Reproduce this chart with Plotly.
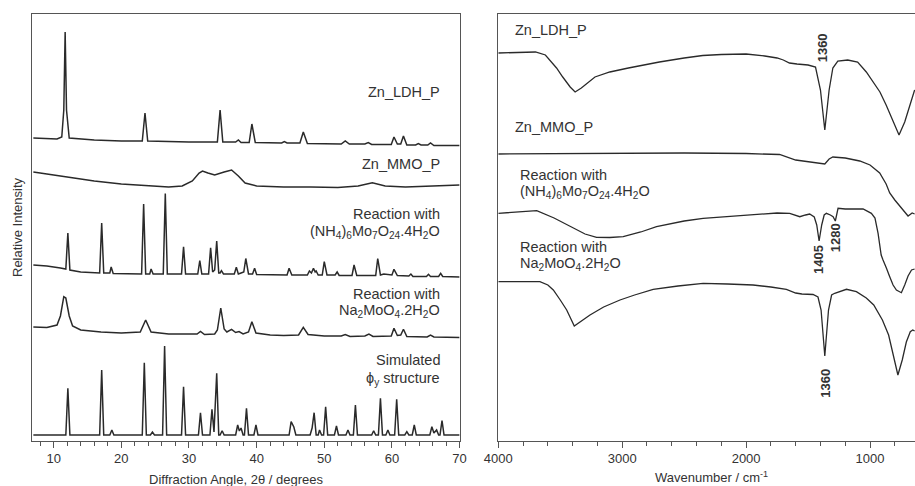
import plotly.graph_objects as go

# ---------------- XRD (left panel), 2theta in degrees, intensity in arbitrary offset units
ldh_x = [7.0, 10.5, 11.2, 11.5, 11.7, 11.9, 12.3, 16, 20, 23.1, 23.5, 23.9, 30, 34.2, 34.6, 35.0,
         36.9, 37.3, 37.7, 38.9, 39.3, 39.8, 43.7, 44.1, 44.5, 46.4, 46.9, 47.5, 52.5, 53.1, 53.7,
         56.0, 56.5, 57.0, 59.9, 60.3, 60.8, 61.3, 61.7, 62.2, 63.5, 63.9, 64.3, 65.3, 65.7, 66.2, 70]
ldh_y = [302, 301, 303, 330, 408, 330, 302, 300, 299, 299, 327, 299, 298, 298, 330, 298,
         298, 300, 297.5, 297.5, 316, 297.5, 297, 298.5, 297, 297, 308, 296.5, 296, 299, 296,
         296, 297.5, 295.5, 295.5, 303, 296, 296, 304, 295, 295, 296.5, 295, 295, 297, 294.5, 294.5]

mmo_x = [7.0, 9, 12, 16, 20, 24, 27, 29, 30.5, 31.5, 32.0, 32.8, 33.8, 35.2, 36.3, 37.3, 38.3,
         40, 44, 48, 52, 55, 57.1, 59, 62, 66, 70]
mmo_y = [268, 266, 263, 259, 256, 254, 253, 254, 259, 267, 269, 267, 265, 268, 270, 264, 257,
         254, 253, 253, 252.5, 254, 257.3, 254, 253, 254, 255]

nh4_x = [7.0, 9, 11, 11.8, 12.1, 12.4, 14, 16.8, 17.1, 17.4, 18.3, 18.5, 18.8, 23.0, 23.3, 23.6,
         24.2, 24.4, 24.7, 26.2, 26.5, 26.8, 28.9, 29.2, 29.5, 31.3, 31.6, 31.9, 32.9, 33.2, 33.5,
         33.8, 34.1, 34.4, 34.6, 34.8, 35.1, 36.7, 37.0, 37.3, 37.7, 38.1, 38.4, 38.8, 39.4, 39.7,
         40.0, 44.5, 44.8, 45.2, 47.5, 47.8, 48.1, 48.4, 48.65, 48.8, 49.1, 49.7, 50.0, 50.4, 51.6,
         51.9, 52.2, 54.1, 54.4, 54.8, 57.6, 57.9, 58.3, 58.8, 60.0, 60.3, 60.8, 62.5, 62.8, 63.1,
         65.1, 65.4, 65.7, 66.9, 67.2, 67.5, 70]
nh4_y = [175, 174, 172, 171, 207, 170, 168, 167, 217, 167, 167, 173, 166.5, 166, 236, 166,
         166, 171, 166, 166, 246.5, 166, 166, 193.3, 166, 166, 179.3, 166, 166, 192.3, 168,
         170, 199, 167, 167, 169.3, 166, 166, 172.7, 166, 167, 168, 181.5, 166, 166, 171.7,
         165.5, 165, 171.7, 165, 165, 169, 167, 171.7, 168, 169, 165, 165, 178.3, 165, 165,
         168, 164.5, 164.5, 175, 164.5, 164.5, 181.5, 165, 166, 165, 170.7, 164.5, 164, 166, 163.5,
         163.5, 165.7, 163.5, 163.5, 166.7, 163.5, 163]

na_x = [7.0, 9, 10.5, 11.0, 11.5, 11.8, 12.3, 12.8, 14, 17, 20, 22.8, 23.6, 24.4, 27, 31.2, 31.7,
        32.3, 33.8, 34.2, 34.7, 35.2, 35.6, 36.3, 36.9, 37.4, 38.0, 38.8, 39.3, 39.9, 42, 44,
        46.2, 46.9, 47.6, 50, 52.5, 53.1, 53.8, 56.0, 56.6, 57.2, 59.9, 60.3, 60.8, 61.3, 61.7,
        62.2, 65.2, 65.7, 66.2, 68, 70]
na_y = [113, 112.5, 115, 124, 143.3, 142, 124, 114, 110, 108, 107, 108, 120, 108, 106, 106, 108.5,
        105.5, 106, 110, 132, 111, 108, 110.7, 107.5, 108.5, 106, 108, 118.3, 107, 105, 104.5,
        105, 112.7, 105.5, 104, 104, 105.5, 103.5, 104, 106, 103.5, 104, 111.7, 104.5, 105, 110.7,
        103.5, 103, 105, 103, 102.5, 102.5]

sim_x = [7.0, 11.8, 12.1, 12.4, 16.8, 17.1, 17.4, 18.3, 18.6, 18.9, 23.1, 23.4, 23.7, 24.3, 24.6,
         24.9, 26.1, 26.4, 26.7, 28.9, 29.2, 29.5, 31.4, 31.7, 32.0, 33.1, 33.4, 33.7, 34.1, 34.4,
         34.6, 34.9, 35.2, 36.9, 37.2, 37.45, 37.7, 38.0, 38.2, 38.5, 38.8, 39.6, 39.9, 40.2, 44.8,
         45.1, 45.5, 45.8, 47.9, 48.2, 48.5, 48.8, 49.1, 49.3, 49.6, 49.9, 50.2, 50.5, 51.5, 51.8,
         52.1, 53.2, 53.5, 53.8, 54.3, 54.6, 54.9, 57.0, 57.3, 57.6, 58.0, 58.3, 58.6, 59.1, 59.4,
         59.7, 60.4, 60.7, 61.0, 61.9, 62.2, 62.5, 63.0, 63.3, 63.6, 65.6, 65.9, 66.2, 66.6, 66.9,
         67.1, 67.4, 67.7, 70]
sim_y = [5, 5, 51.7, 5, 5, 70, 5, 5, 10, 5, 5, 77.3, 5, 5, 8,
         5, 5, 94, 5, 5, 53.3, 5, 5, 27.3, 5, 5, 30.7, 8, 66.7, 5,
         5, 9.3, 5, 5, 15, 9, 12, 5, 5, 31.7, 5, 5, 15, 5, 5,
         18.3, 13, 5, 5, 12, 27.3, 5, 5, 10, 5, 5, 33.3, 5, 5, 14,
         5, 5, 10, 5, 5, 35, 5, 5, 9.3, 5, 5, 41.7, 5, 5, 10,
         5, 5, 40.7, 5, 5, 8.3, 5, 5, 15, 5, 5, 13.3, 7, 10, 5,
         5, 19.3, 5, 5]

xrd_labels = [("Zn_LDH_P", 348), ("Zn_MMO_P", 276),
              ("Reaction with", 226), ("(NH<sub>4</sub>)<sub>6</sub>Mo<sub>7</sub>O<sub>24</sub>.4H<sub>2</sub>O", 208),
              ("Reaction with", 146.5), ("Na<sub>2</sub>MoO<sub>4</sub>.2H<sub>2</sub>O", 129.5),
              ("Simulated", 80), ("\u03d5<sub>y</sub> structure", 61.5)]

# ---------------- FTIR (right panel), wavenumber in cm-1
ir_ldh_x = [4000, 3700, 3620, 3530, 3480, 3420, 3380, 3330, 3220, 3100, 2950, 2700, 2500, 2350, 2200,
            2000, 1850, 1750, 1700, 1650, 1590, 1500, 1440, 1400, 1365, 1330, 1300, 1260, 1180, 1100,
            1030, 960, 920, 870, 820, 766, 720, 690, 670, 640]
ir_ldh_y = [387, 388, 385, 372, 363, 353, 348, 352, 363, 368, 372, 378, 382, 384.5, 385.5,
            386, 384, 382, 380, 377, 376, 375, 373, 350, 310, 350, 372, 379, 380, 378,
            368, 355, 348, 335, 320, 305, 318, 330, 340, 350]

ir_mmo_x = [4000, 3500, 3000, 2500, 2000, 1800, 1730, 1600, 1500, 1420, 1365, 1330, 1300, 1200,
            1083, 1000, 922, 870, 841, 800, 760, 693, 660, 640]
ir_mmo_y = [286, 286.5, 287, 287, 286.5, 286, 285.5, 280, 278, 276.5, 276, 281, 283, 282,
            279, 275, 267, 256, 247, 240, 234, 224, 227, 226]

ir_nh4_x = [4000, 3800, 3690, 3550, 3420, 3300, 3207, 3100, 2992, 2850, 2723, 2500, 2347, 2100,
            1944, 1750, 1648, 1600, 1567, 1520, 1487, 1450, 1430, 1411, 1390, 1370, 1352, 1320,
            1298, 1280, 1265, 1258, 1200, 1110, 1056, 989, 960, 935, 922, 910, 895, 880, 868, 841,
            814, 787, 760, 747, 720, 693, 665, 640]
ir_nh4_y = [226.7, 228, 229.3, 222, 213.3, 206, 202.7, 202.5, 203.3, 208, 213.3, 219, 221.7, 224,
            225, 227, 226.7, 225, 223.3, 225, 226, 223, 215, 199, 215, 225, 226.7, 225,
            223.3, 219, 230, 231.7, 231, 230.7, 231, 226.7, 222, 206.7, 192, 185, 180, 176, 172, 163.3,
            155, 150, 148.3, 147.3, 155, 164, 170, 171]

ir_na_x = [4000, 3664, 3600, 3556, 3500, 3448, 3387, 3330, 3260, 3150, 3018, 2900, 2750, 2550, 2347,
           2150, 1944, 1800, 1675, 1600, 1550, 1460, 1420, 1395, 1365, 1335, 1310, 1285, 1218, 1190,
           1110, 1030, 970, 900, 850, 810, 775, 740, 707, 675, 655, 640]
ir_na_y = [158.3, 158.3, 155, 150, 140, 130, 114, 119, 125, 133, 140, 145, 150.7, 154, 156.7,
           156, 155, 153, 150.7, 147, 146, 145.5, 143, 130, 84, 130, 145, 146.7, 150, 150.7,
           148.3, 142, 135, 120, 105, 85, 65, 80, 98, 108.3, 110, 109]

ir_labels = [("Zn_LDH_P", 410, 3880), ("Zn_MMO_P", 313, 3880),
             ("Reaction with", 265, 3840), ("(NH<sub>4</sub>)<sub>6</sub>Mo<sub>7</sub>O<sub>24</sub>.4H<sub>2</sub>O", 248, 3840),
             ("Reaction with", 193.3, 3840), ("Na<sub>2</sub>MoO<sub>4</sub>.2H<sub>2</sub>O", 176, 3840)]
ir_peak_labels = [("1360", 1385, 392), ("1405", 1420, 181), ("1280", 1281, 202), ("1360", 1365, 57)]

FONT = "Liberation Sans, Arial, sans-serif"
INK = "#2a2a2a"
AX = "#555555"

fig = go.Figure()
for xs, ys in [(ldh_x, ldh_y), (mmo_x, mmo_y), (nh4_x, nh4_y), (na_x, na_y), (sim_x, sim_y)]:
    fig.add_trace(go.Scatter(x=xs, y=ys, mode="lines", line=dict(color=INK, width=1.5),
                             xaxis="x", yaxis="y", showlegend=False, hoverinfo="skip"))
for xs, ys in [(ir_ldh_x, ir_ldh_y), (ir_mmo_x, ir_mmo_y), (ir_nh4_x, ir_nh4_y), (ir_na_x, ir_na_y)]:
    fig.add_trace(go.Scatter(x=xs, y=ys, mode="lines", line=dict(color=INK, width=1.3),
                             xaxis="x2", yaxis="y2", showlegend=False, hoverinfo="skip"))

ydom = [45.5 / 486, 472.5 / 486]
common_x = dict(showline=True, linecolor=AX, linewidth=1.3, mirror=True, ticks="outside",
                ticklen=6, tickwidth=1.2, tickcolor=AX, showgrid=False, zeroline=False,
                automargin=False,
                tickfont=dict(family=FONT, size=13, color="#333"))
fig.update_layout(
    template="none",
    width=915, height=486, margin=dict(l=0, r=0, t=0, b=0, pad=0, autoexpand=False),
    paper_bgcolor="white", plot_bgcolor="white",
    xaxis=dict(domain=[32 / 915, 459.6 / 915], range=[6.8, 70], dtick=10, tick0=0,
               minor=dict(dtick=2, tick0=0, ticklen=4, ticks="outside", tickcolor=AX, tickwidth=1.1),
               anchor="y", **common_x),
    yaxis=dict(domain=ydom, range=[-0.5, 426.5], showline=True, linecolor=AX, linewidth=1.3,
               mirror=True, showticklabels=False, ticks="", showgrid=False, zeroline=False,
               automargin=False, anchor="x"),
    xaxis2=dict(domain=[498.3 / 915, 1.0], range=[4000, 637], dtick=1000, tick0=0,
                minor=dict(dtick=200, tick0=0, ticklen=4, ticks="outside", tickcolor=AX, tickwidth=1.1),
                anchor="y2", **common_x),
    yaxis2=dict(domain=ydom, range=[-0.5, 426.5], showline=True, linecolor=AX, linewidth=1.3,
                mirror=False, showticklabels=False, ticks="", showgrid=False, zeroline=False,
                automargin=False, anchor="x2"),
)

ann = []
for text, yv in xrd_labels:
    ann.append(dict(text=text, x=67.4, y=yv, xref="x", yref="y", xanchor="right", yanchor="middle",
                    showarrow=False, font=dict(family=FONT, size=14.5, color="#333")))
for text, yv, xv in ir_labels:
    ann.append(dict(text=text, x=xv, y=yv, xref="x2", yref="y2", xanchor="left", yanchor="middle",
                    showarrow=False, font=dict(family=FONT, size=14.5, color="#333")))
for text, xv, yv in ir_peak_labels:
    ann.append(dict(text="<b>" + text + "</b>", x=xv, y=yv, xref="x2", yref="y2", textangle=-90,
                    xanchor="center", yanchor="middle", showarrow=False,
                    font=dict(family=FONT, size=13, color="#333")))
ann.append(dict(text="Relative Intensity", x=17.5 / 915, y=(486 - 227.5) / 486, xref="paper", yref="paper",
                textangle=-90, xanchor="center", yanchor="middle", showarrow=False,
                font=dict(family=FONT, size=13, color="#333")))
ann.append(dict(text="Diffraction Angle, 2\u03b8 / degrees", x=235.5 / 915, y=(486 - 479) / 486,
                xref="paper", yref="paper", xanchor="center", yanchor="middle", showarrow=False,
                font=dict(family=FONT, size=13, color="#333")))
ann.append(dict(text="Wavenumber / cm<sup>-1</sup>", x=711.7 / 915, y=(486 - 477) / 486,
                xref="paper", yref="paper", xanchor="center", yanchor="middle", showarrow=False,
                font=dict(family=FONT, size=13, color="#333")))
fig.update_layout(annotations=ann)

fig.write_html("out.html")
